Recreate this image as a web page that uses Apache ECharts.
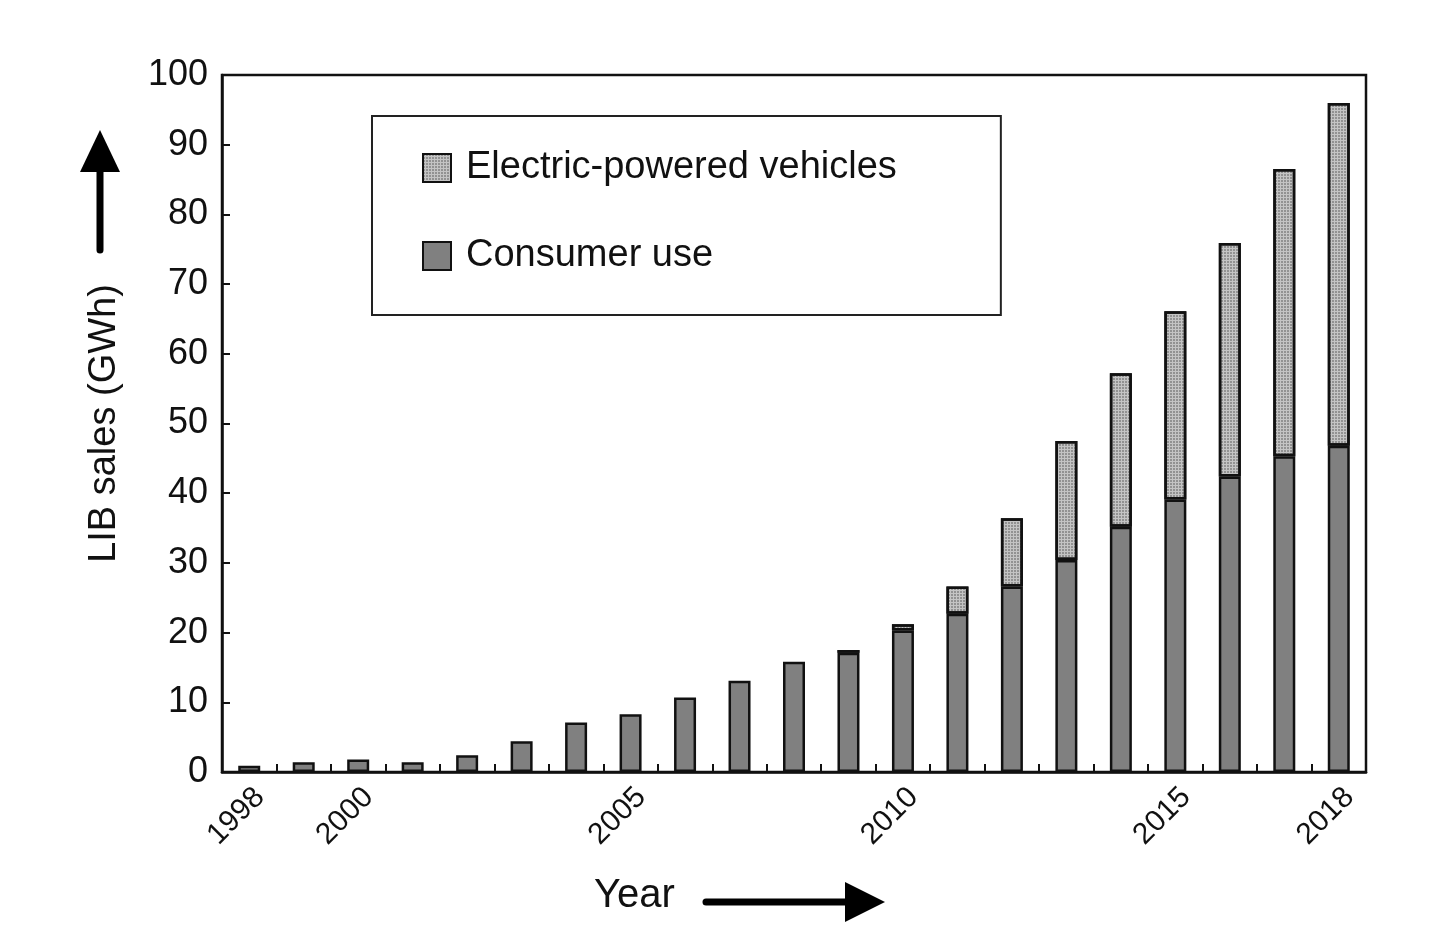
<!DOCTYPE html>
<html>
<head>
<meta charset="utf-8">
<script src="https://cdn.jsdelivr.net/npm/echarts@6/dist/echarts.min.js"></script>
<style>
html,body{margin:0;padding:0;background:#fff;}
#chart{width:1446px;height:938px;}
</style>
</head>
<body>
<div id="chart"></div>
<script>
const years = ['1998','1999','2000','2001','2002','2003','2004','2005','2006','2007','2008','2009','2010','2011','2012','2013','2014','2015','2016','2017','2018'];
const shownYears = ['1998','2000','2005','2010','2015','2018'];
const consumerUse = [0.9, 1.4, 1.8, 1.4, 2.4, 4.4, 7.1, 8.3, 10.7, 13.1, 15.8, 17.1, 20.3, 22.7, 26.6, 30.4, 35.2, 39.1, 42.4, 45.3, 46.8];
const electricVehicles = [0, 0, 0, 0, 0, 0, 0, 0, 0, 0, 0, 0.4, 0.9, 3.9, 9.8, 17.1, 22.0, 27.0, 33.5, 41.2, 49.2];
const yTicks = {min: 0, max: 100, interval: 10};

const FONT = 'Liberation Sans, Arial, sans-serif';
const chart = echarts.init(document.getElementById('chart'));

const evDecal = {
  symbol: 'rect',
  symbolSize: 0.7,
  color: 'rgba(40,40,40,0.6)',
  dashArrayX: [2, 1],
  dashArrayY: [2, 1],
  rotation: 0
};

chart.setOption({
  animation: false,
  backgroundColor: '#fff',
  grid: {
    left: 222, right: 80, top: 75, bottom: 166,
    show: true, borderColor: '#111', borderWidth: 2.5, backgroundColor: 'transparent'
  },
  legend: {
    orient: 'vertical',
    left: 372, top: 116,
    padding: [33, 104, 40, 50],
    itemGap: 50,
    itemWidth: 28, itemHeight: 28,
    icon: 'rect',
    borderColor: '#222', borderWidth: 2,
    borderRadius: 0,
    textStyle: {fontFamily: FONT, fontSize: 38, color: '#111', padding: [0, 0, 0, 10]},
    data: ['Electric-powered vehicles', 'Consumer use']
  },
  xAxis: {
    type: 'category',
    data: years,
    boundaryGap: true,
    axisLine: {lineStyle: {color: '#111', width: 2.5}},
    axisTick: {show: true, inside: true, interval: 0, length: 8, lineStyle: {color: '#111', width: 2}},
    axisLabel: {
      interval: (idx, val) => shownYears.indexOf(val) >= 0,
      rotate: 45,
      margin: 10,
      verticalAlign: 'top',
      fontFamily: FONT, fontSize: 30, color: '#111'
    },
    splitLine: {show: false}
  },
  yAxis: {
    type: 'value',
    min: yTicks.min, max: yTicks.max, interval: yTicks.interval,
    name: 'LIB sales (GWh)',
    nameLocation: 'middle',
    nameRotate: 90,
    nameGap: 98,
    nameTextStyle: {fontFamily: FONT, fontSize: 38, color: '#111'},
    axisLine: {show: true, lineStyle: {color: '#111', width: 2.5}},
    axisTick: {show: true, inside: true, length: 8, lineStyle: {color: '#111', width: 2}},
    axisLabel: {fontFamily: FONT, fontSize: 36, color: '#111', margin: 14},
    splitLine: {show: false}
  },
  series: [
    {
      name: 'Consumer use',
      type: 'bar',
      stack: 'total',
      barWidth: 22,
      data: consumerUse,
      itemStyle: {color: '#808080', borderColor: '#111', borderWidth: 2.5}
    },
    {
      name: 'Electric-powered vehicles',
      type: 'bar',
      stack: 'total',
      barWidth: 22,
      data: electricVehicles.map(v => (v === 0 ? '-' : v)),
      itemStyle: {color: '#c4c4c4', borderColor: '#111', borderWidth: 2.5, decal: evDecal}
    }
  ],
  graphic: [
    {type: 'line', shape: {x1: 100, y1: 250, x2: 100, y2: 165}, style: {stroke: '#000', lineWidth: 7, lineCap: 'round'}},
    {type: 'polygon', shape: {points: [[100, 130], [80, 172], [120, 172]]}, style: {fill: '#000'}},
    {type: 'text', left: 594, top: 876, style: {text: 'Year', font: '40px ' + FONT, fill: '#111'}},
    {type: 'line', shape: {x1: 706, y1: 902, x2: 850, y2: 902}, style: {stroke: '#000', lineWidth: 7, lineCap: 'round'}},
    {type: 'polygon', shape: {points: [[885, 902], [845, 882], [845, 922]]}, style: {fill: '#000'}}
  ]
});
</script>
</body>
</html>
